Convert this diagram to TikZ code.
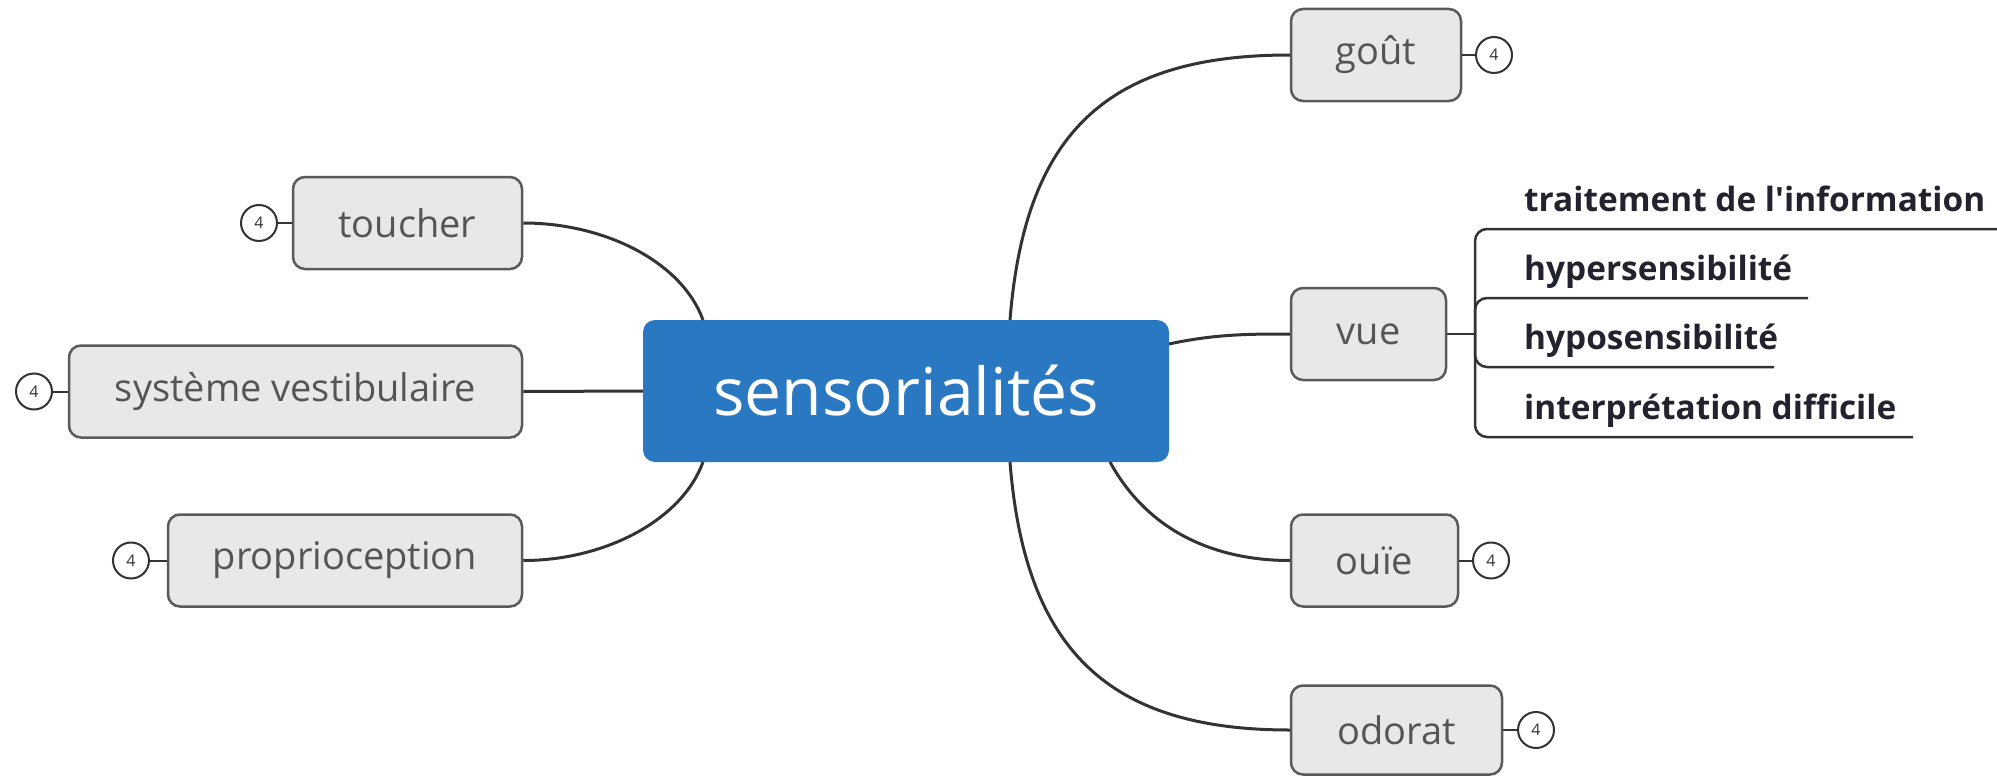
\documentclass[tikz,border=0pt]{standalone}
\usepackage{fontspec}
\setmainfont{Open Sans}
\newfontfamily\subfont[Ligatures=TeXOff]{Open Sans}
\definecolor{boxfill}{HTML}{E8E8E8}
\definecolor{boxborder}{HTML}{5A5A5A}
\definecolor{labelgray}{HTML}{555555}
\definecolor{linecol}{HTML}{333333}
\definecolor{centralblue}{HTML}{2A78C2}
\definecolor{subtext}{HTML}{22232E}
\tikzset{
  topicbox/.style={draw=boxborder, fill=boxfill, rounded corners=12pt, line width=2.5pt,
    text=labelgray, font=\fontsize{38}{42}\selectfont, inner sep=0pt, minimum height=92pt},
  centralbox/.style={fill=centralblue, rounded corners=12pt, text=white,
    font=\fontsize{66}{72}\selectfont, inner sep=0pt, minimum width=526pt, minimum height=142pt},
  badge/.style={circle, draw=linecol, line width=2pt, fill=white, minimum size=36pt, inner sep=0pt,
    font=\fontsize{16}{18}\selectfont, text=linecol},
  conn/.style={draw=linecol, line width=3pt},
  subline/.style={draw=linecol, line width=2.5pt, rounded corners=12pt},
  sublabel/.style={anchor=base west, inner sep=0pt, text=subtext, font=\subfont\bfseries\fontsize{33.4}{38}\selectfont}
}
\begin{document}
\begin{tikzpicture}[x=1pt,y=-1pt]
\useasboundingbox (0,0) rectangle (1997,776);
% central
\node[centralbox] (c) at (906,391) {sensorialités};
% left topics
\node[topicbox, minimum width=229pt] (toucher) at (407.5,223) {toucher};
\node[topicbox, minimum width=453pt] (vest) at (295.5,391.5) {système vestibulaire};
\node[topicbox, minimum width=354pt] (prop) at (345,560.5) {proprioception};
% right topics
\node[topicbox, minimum width=170pt] (gout) at (1376,55) {goût};
\node[topicbox, minimum width=155pt] (vue) at (1368.5,334) {vue};
\node[topicbox, minimum width=167pt] (ouie) at (1374.5,560.5) {ouïe};
\node[topicbox, minimum width=211pt, minimum height=89pt] (odorat) at (1396.5,730) {odorat};
% badges
\node[badge] (b1) at (259,223) {4};
\node[badge] (b2) at (34,391.5) {4};
\node[badge] (b3) at (131,560.5) {4};
\node[badge] (b4) at (1494,55) {4};
\node[badge] (b5) at (1491,560.5) {4};
\node[badge] (b6) at (1536,730) {4};
\draw[conn, line width=2pt] (b1) -- (toucher);
\draw[conn, line width=2pt] (b2) -- (vest);
\draw[conn, line width=2pt] (b3) -- (prop);
\draw[conn, line width=2pt] (b4) -- (gout);
\draw[conn, line width=2pt] (b5) -- (ouie);
\draw[conn, line width=2pt] (b6) -- (odorat);
% connectors from central
\coordinate (cT1) at (703,320);
\coordinate (cB1) at (703,462);
\coordinate (cT2) at (1010,320);
\coordinate (cB2) at (1010,462);
\coordinate (cB3) at (1110,462);
\coordinate (cR) at (1169,344);
\draw[conn] (cT1) .. controls (682,262) and (605,223) .. (toucher.east);
\draw[conn] (c.west) -- (vest.east);
\draw[conn] (cB1) .. controls (682,520) and (605,560.5) .. (prop.east);
\draw[conn] (cT2) .. controls (1025,130) and (1110,55) .. (gout.west);
\draw[conn] (cR) .. controls (1215,334) and (1250,334) .. (vue.west);
\draw[conn] (cB3) .. controls (1150,535) and (1220,560.5) .. (ouie.west);
\draw[conn] (cB2) .. controls (1025,652) and (1110,730) .. (odorat.west);
% vue subtopics
\coordinate (J) at (1475,334);
\draw[conn, line width=2.5pt] (vue.east) -- (J);
\coordinate (e1) at (1997,229);
\coordinate (e2) at (1808,298);
\coordinate (e3) at (1774,367);
\coordinate (e4) at (1913,437);
\draw[subline] (J) |- (e1);
\draw[subline] (J) |- (e2);
\draw[subline] (J) |- (e3);
\draw[subline] (J) |- (e4);
\node[sublabel] (s1) at (1524,211) {traitement de l'information};
\node[sublabel] (s2) at (1524,280) {hypersensibilité};
\node[sublabel] (s3) at (1524,349) {hyposensibilité};
\node[sublabel] (s4) at (1524,419) {interprétation difficile};
\end{tikzpicture}
\end{document}
